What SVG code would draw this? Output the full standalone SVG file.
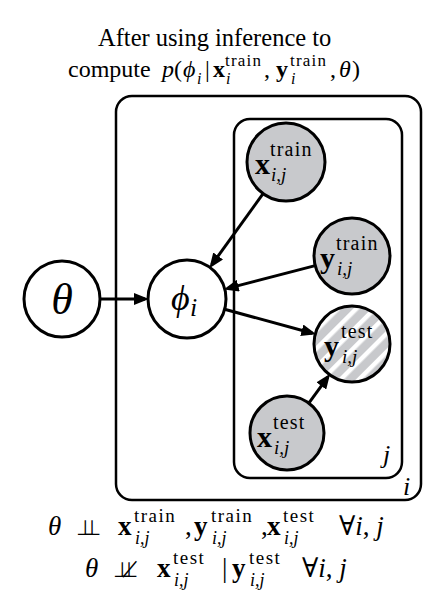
<svg xmlns="http://www.w3.org/2000/svg" width="447" height="601" viewBox="0 0 447 601">
<style>
.t{font-family:"Liberation Serif","DejaVu Serif",serif;fill:#000}
.it{font-style:italic}
.b{font-weight:bold}
.plate{fill:none;stroke:#000;stroke-width:2.5}
.node{stroke:#000;stroke-width:3}
.obs{fill:#c8c9cc}
.lat{fill:#fff}
.edge{stroke:#000;stroke-width:3;fill:none;marker-end:url(#ah)}
.sym{font-family:"DejaVu Sans",sans-serif}
</style>
<defs>
<marker id="ah" markerUnits="userSpaceOnUse" markerWidth="15" markerHeight="12" refX="11" refY="6" orient="auto">
<path d="M0,0 L15,6 L0,12 z" fill="#000"/>
</marker>
<pattern id="hatch" patternUnits="userSpaceOnUse" width="13" height="13" patternTransform="rotate(45)">
<rect width="13" height="13" fill="#c8c9cc"/>
<rect width="4.5" height="13" fill="#fff"/>
</pattern>
</defs>
<rect width="447" height="601" fill="#fff"/>

<g id="title" class="t" font-size="24">
<text x="98" y="46" font-size="24.5">After using inference to</text>
<text y="77">
<tspan x="68">compute</tspan>
<tspan x="162" class="it">p</tspan><tspan x="174">(</tspan><tspan x="183" class="it">ϕ</tspan><tspan x="197" y="84" class="it" font-size="16">i</tspan><tspan x="205" y="77">|</tspan>
<tspan x="213" class="b">x</tspan><tspan x="225" y="66" font-size="17" letter-spacing="1.2">train</tspan><tspan x="226" y="84" class="it" font-size="16">i</tspan><tspan x="264" y="77">,</tspan>
<tspan x="276" class="b">y</tspan><tspan x="290" y="66" font-size="17" letter-spacing="1.2">train</tspan><tspan x="291" y="84" class="it" font-size="16">i</tspan><tspan x="330" y="77">,</tspan>
<tspan x="339" class="it">θ</tspan><tspan x="352">)</tspan>
</text>
</g>

<g id="plate-i">
<rect class="plate" x="116" y="96" width="305" height="404" rx="16"/>
<text class="t it" x="403" y="495" font-size="26">i</text>
</g>
<g id="plate-j">
<rect class="plate" x="234" y="119" width="168" height="359" rx="16"/>
<text class="t it" x="383" y="463" font-size="26">j</text>
</g>

<g id="connectors">
<line class="edge" x1="100" y1="299" x2="145" y2="299"/>
<line class="edge" x1="263.1" y1="193.6" x2="211.7" y2="264.9"/>
<line class="edge" x1="315.2" y1="265.6" x2="227.6" y2="288.4"/>
<line class="edge" x1="224.6" y1="309.3" x2="312.4" y2="333.2"/>
<line class="edge" x1="308.8" y1="403.1" x2="327.8" y2="377.1"/>
</g>

<g id="theta">
<circle class="node lat" cx="62" cy="299" r="38"/>
<text class="t it" x="62" y="314" font-size="44" text-anchor="middle">θ</text>
</g>
<g id="phi">
<circle class="node lat" cx="187" cy="299" r="39"/>
<text class="t it" x="171" y="310" font-size="36">ϕ</text>
<text class="t it" x="190" y="316" font-size="26">i</text>
</g>
<g id="x-train">
<circle class="node obs" cx="286" cy="162" r="39"/>
<text class="t b" x="255" y="174" font-size="30">x</text>
<text class="t" x="270" y="156" font-size="20" letter-spacing="1.2">train</text>
<text class="t it" x="271" y="181" font-size="19">i,j</text>
</g>
<g id="y-train">
<circle class="node obs" cx="352" cy="256" r="38"/>
<text class="t b" x="320" y="268" font-size="30">y</text>
<text class="t" x="336" y="250" font-size="20" letter-spacing="1.2">train</text>
<text class="t it" x="337" y="275" font-size="19">i,j</text>
</g>
<g id="y-test">
<circle class="node" fill="url(#hatch)" cx="352" cy="344" r="38"/>
<text class="t b" x="324" y="356" font-size="30">y</text>
<text class="t" x="341" y="338" font-size="20" letter-spacing="1.2">test</text>
<text class="t it" x="342" y="363" font-size="19">i,j</text>
</g>
<g id="x-test">
<circle class="node obs" cx="287" cy="433" r="37"/>
<text class="t b" x="257" y="447" font-size="30">x</text>
<text class="t" x="273" y="429" font-size="20" letter-spacing="1.2">test</text>
<text class="t it" x="274" y="454" font-size="19">i,j</text>
</g>

<g id="formula-1" class="t" font-size="27">
<text y="535">
<tspan x="48" class="it">θ</tspan>
<tspan x="76" class="sym" font-size="21" letter-spacing="-11.6">⊥⊥</tspan>
<tspan x="118" class="b">x</tspan><tspan x="134" y="522" font-size="19" letter-spacing="1.5">train</tspan><tspan x="135" y="544" class="it" font-size="18">i,j</tspan><tspan x="185" y="535">,</tspan>
<tspan x="194" class="b">y</tspan><tspan x="211" y="522" font-size="19" letter-spacing="1.5">train</tspan><tspan x="212" y="544" class="it" font-size="18">i,j</tspan><tspan x="261" y="535">,</tspan>
<tspan x="267" class="b">x</tspan><tspan x="283" y="522" font-size="19" letter-spacing="1.5">test</tspan><tspan x="284" y="544" class="it" font-size="18">i,j</tspan>
<tspan x="339" y="535">∀</tspan><tspan class="it">i</tspan>, <tspan class="it">j</tspan>
</text>
</g>
<g id="formula-2" class="t" font-size="27">
<text y="577">
<tspan x="85" class="it">θ</tspan>
<tspan x="113" class="sym" font-size="21" letter-spacing="-11.6">⊥⊥̸</tspan>
<tspan x="157" class="b">x</tspan><tspan x="173" y="564" font-size="19" letter-spacing="1.5">test</tspan><tspan x="174" y="586" class="it" font-size="18">i,j</tspan>
<tspan x="222" y="577">|</tspan>
<tspan x="232" class="b">y</tspan><tspan x="249" y="564" font-size="19" letter-spacing="1.5">test</tspan><tspan x="250" y="586" class="it" font-size="18">i,j</tspan>
<tspan x="302" y="577">∀</tspan><tspan class="it">i</tspan>, <tspan class="it">j</tspan>
</text>
</g>
</svg>
